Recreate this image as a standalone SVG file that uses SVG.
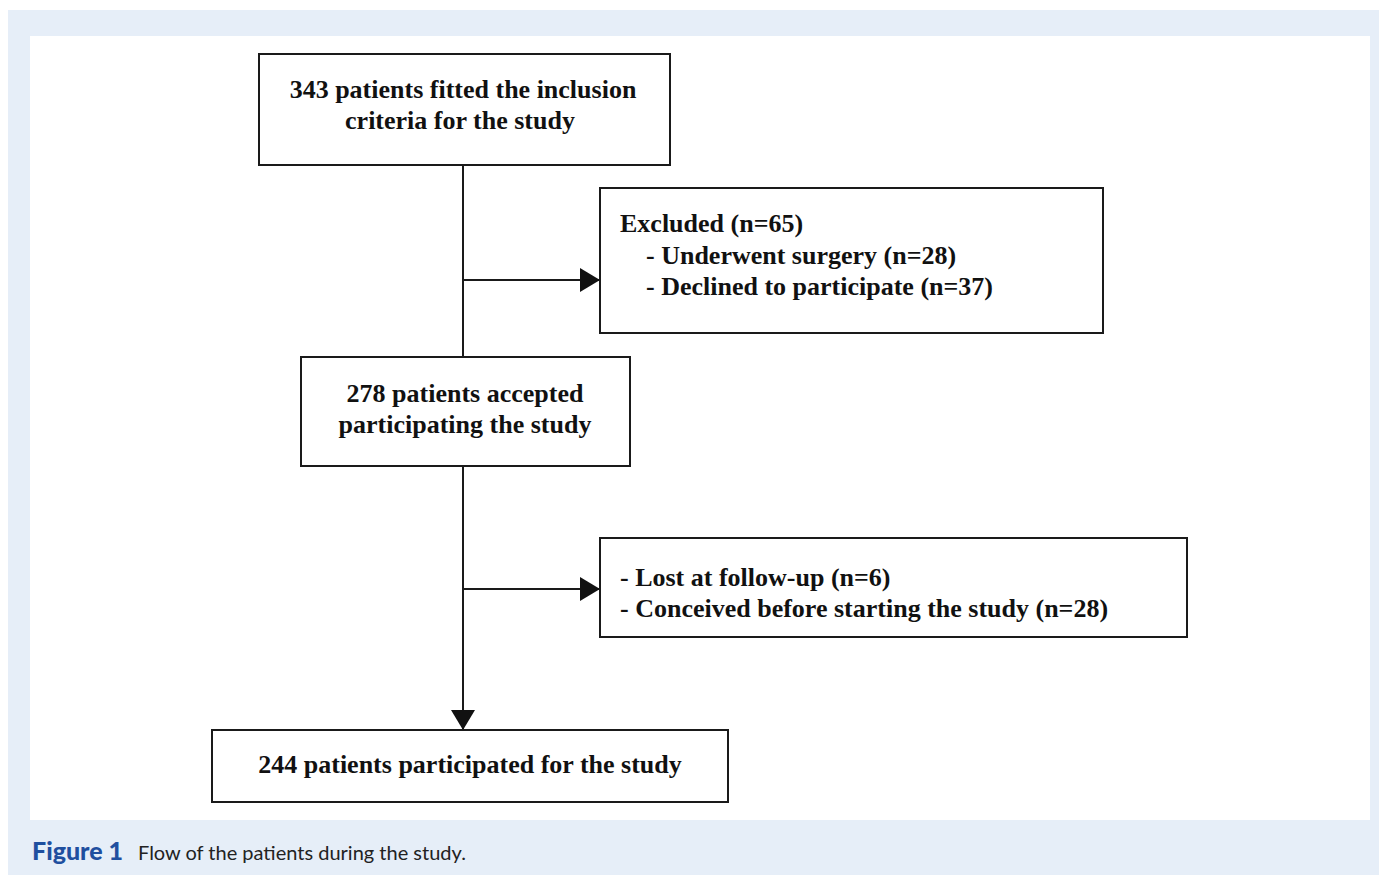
<svg xmlns="http://www.w3.org/2000/svg" width="1379" height="875" viewBox="0 0 1379 875">
<defs>
<style>
.box{fill:#fff;stroke:#1a1a1a;stroke-width:2}
.t{font-family:"Liberation Serif","Times New Roman",serif;font-weight:bold;font-size:26px;fill:#111}
.c{text-anchor:middle}
.ln{stroke:#1a1a1a;stroke-width:2;fill:none}
.cap{font-family:Lato,"Open Sans",sans-serif;font-size:20px;fill:#222}
.capb{font-weight:900;fill:#1f4f9f;font-size:25px}
</style>
<marker id="ah" viewBox="0 0 20 24" refX="20" refY="12" markerWidth="20" markerHeight="24" markerUnits="userSpaceOnUse" orient="auto">
<path d="M0,0 L20,12 L0,24 Z" fill="#111"/>
</marker>
</defs>
<rect x="8" y="10" width="1371" height="865" fill="#e6eef8"/>
<rect x="30" y="36" width="1340" height="784" fill="#fff"/>
<g id="connectors">
<line class="ln" x1="463" y1="165" x2="463" y2="357"/>
<line class="ln" x1="463" y1="280" x2="600" y2="280" marker-end="url(#ah)"/>
<line class="ln" x1="463" y1="466" x2="463" y2="730" marker-end="url(#ah)"/>
<line class="ln" x1="463" y1="589" x2="600" y2="589" marker-end="url(#ah)"/>
</g>
<g id="n1">
<rect class="box" x="259" y="54" width="411" height="111"/>
<text class="t c" x="463" y="98">343 patients fitted the inclusion</text>
<text class="t c" x="460" y="129">criteria for the study</text>
</g>
<g id="n2">
<rect class="box" x="600" y="188" width="503" height="145"/>
<text class="t" x="620" y="232">Excluded (n=65)</text>
<text class="t" x="646" y="264">- Underwent surgery (n=28)</text>
<text class="t" x="646" y="295">- Declined to participate (n=37)</text>
</g>
<g id="n3">
<rect class="box" x="301" y="357" width="329" height="109"/>
<text class="t c" x="465" y="402">278 patients accepted</text>
<text class="t c" x="465" y="433">participating the study</text>
</g>
<g id="n4">
<rect class="box" x="600" y="538" width="587" height="99"/>
<text class="t" x="620" y="586">- Lost at follow-up (n=6)</text>
<text class="t" x="620" y="617">- Conceived before starting the study (n=28)</text>
</g>
<g id="n5">
<rect class="box" x="212" y="730" width="516" height="72"/>
<text class="t c" x="470" y="773">244 patients participated for the study</text>
</g>
<g id="caption">
<text class="cap capb" x="32" y="860">Figure 1</text>
<text class="cap" x="138" y="860">Flow of the patients during the study.</text>
</g>
</svg>
